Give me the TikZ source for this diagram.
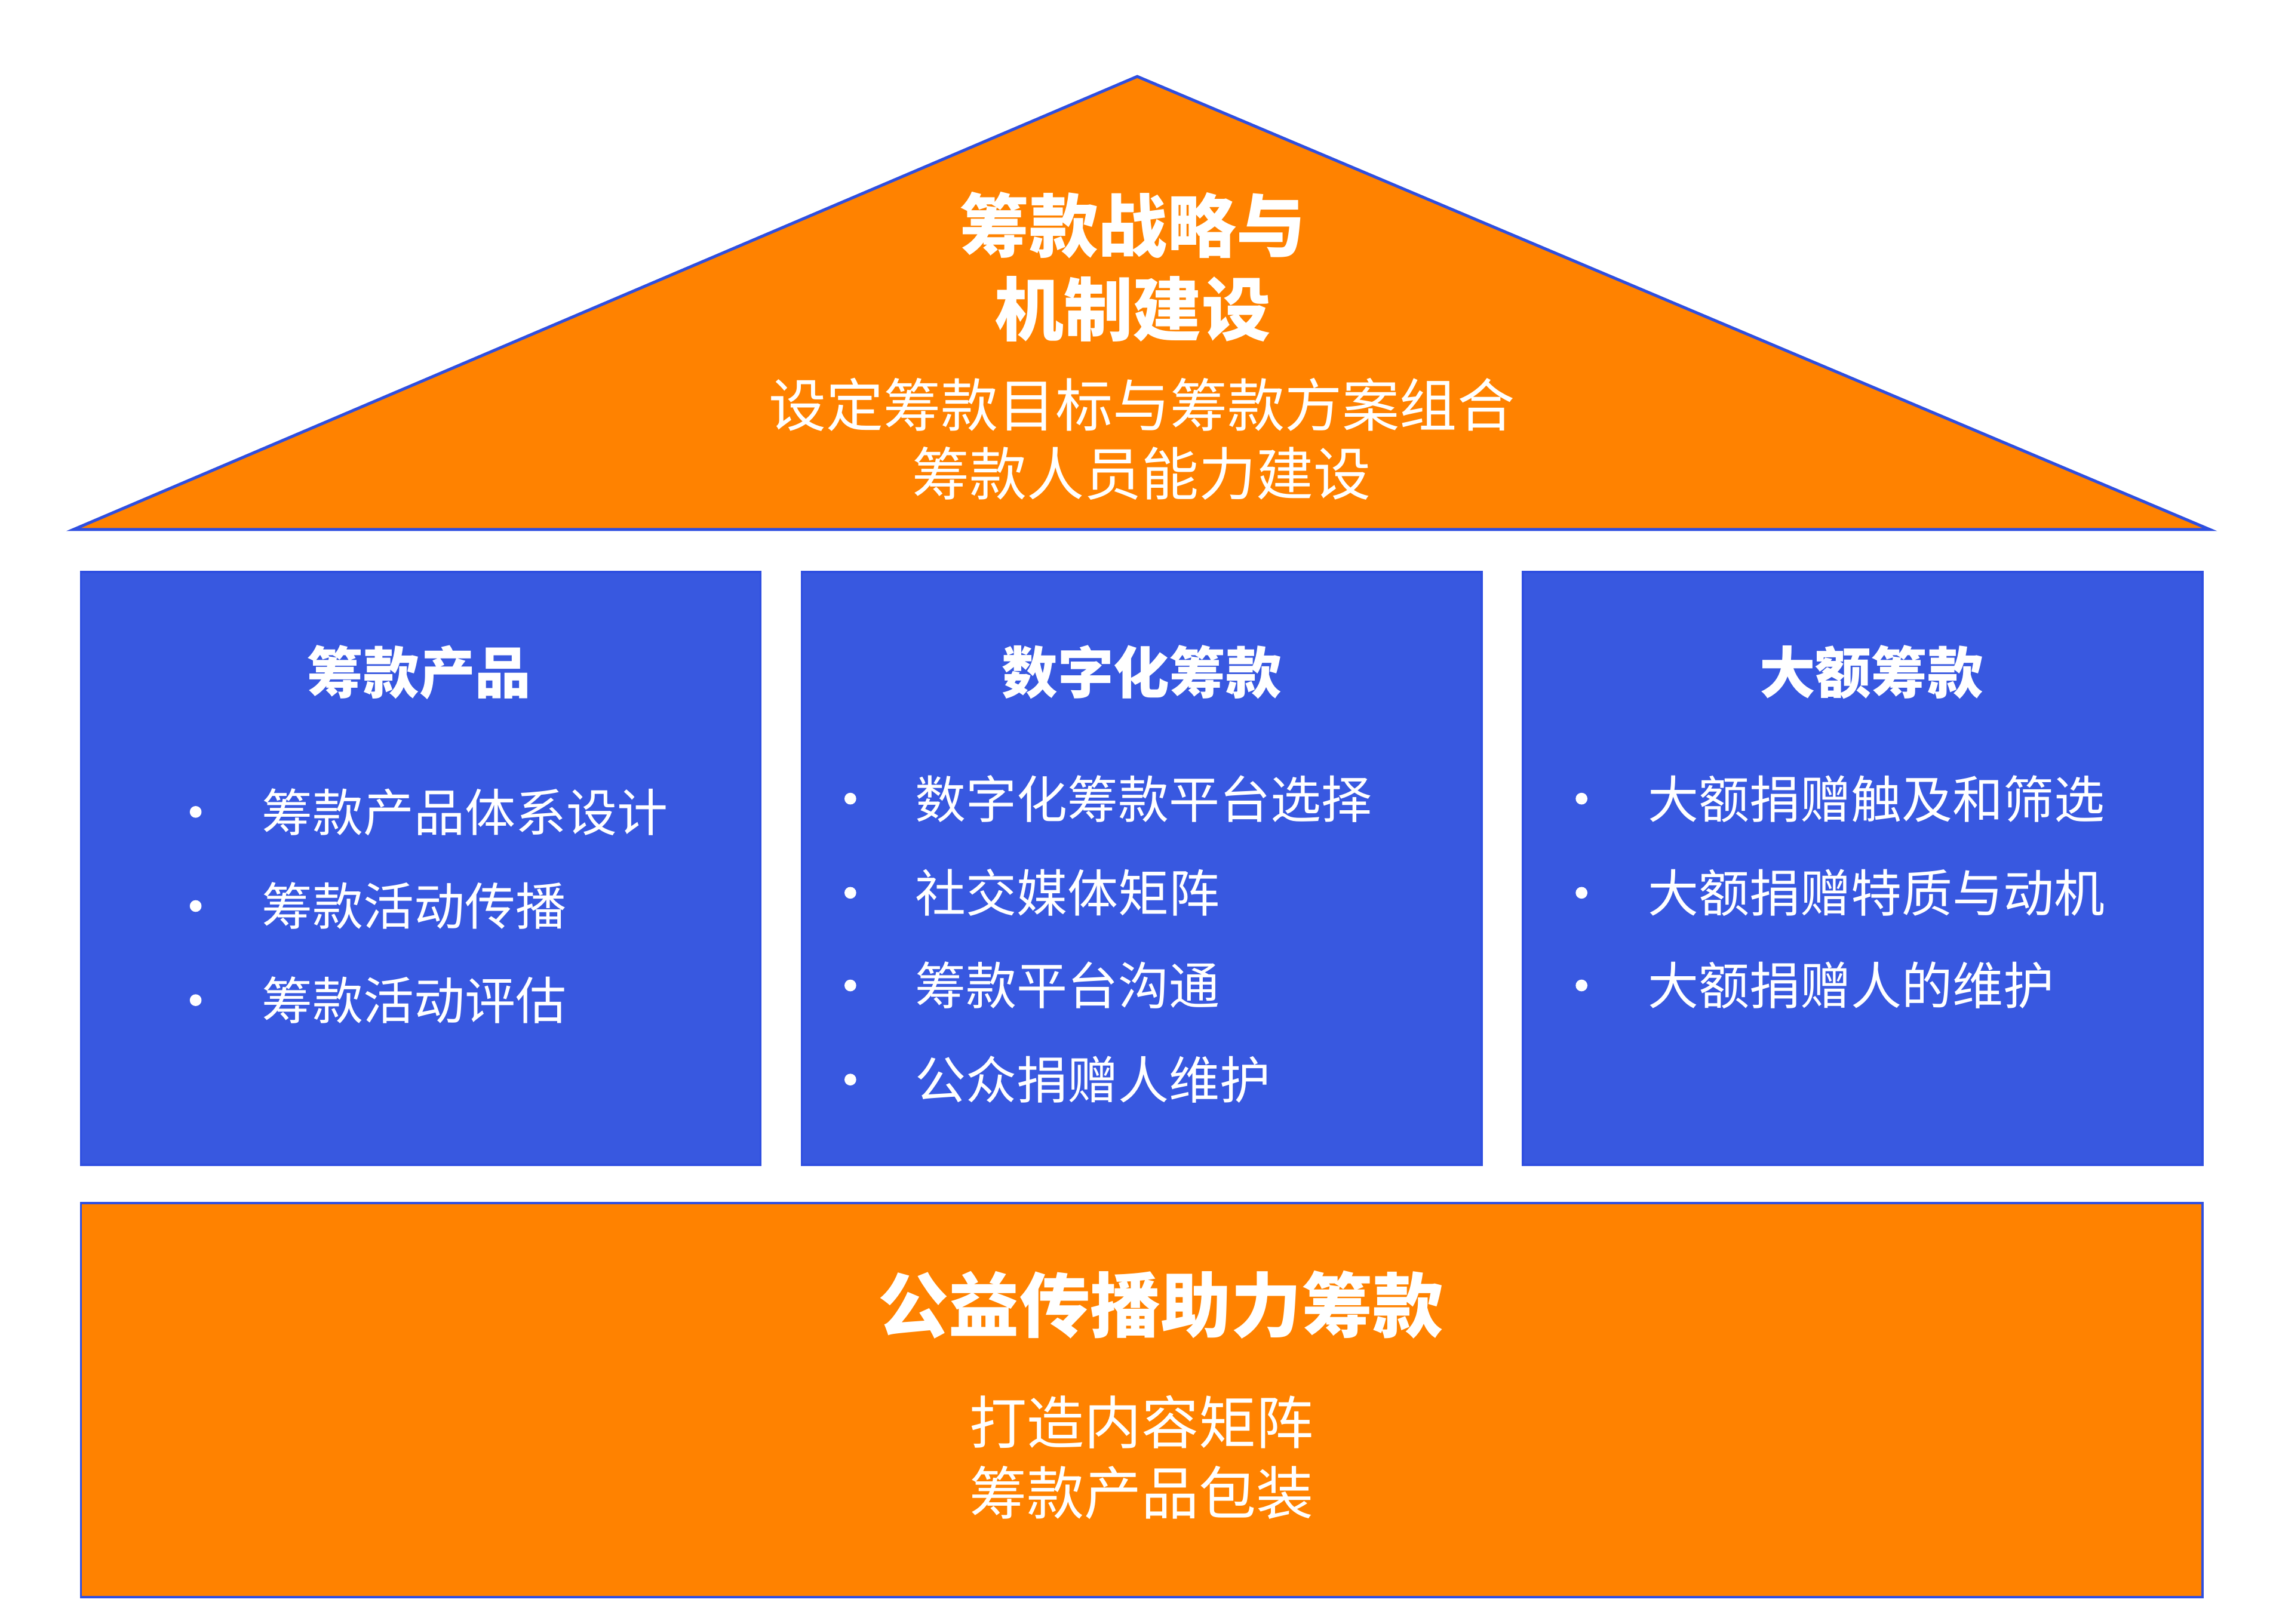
\documentclass[tikz,border=0pt]{standalone}
\usepackage{fontspec}
\setmainfont{Noto Sans CJK SC}
\definecolor{org}{HTML}{FF8200}
\definecolor{blu}{HTML}{3858E0}
\definecolor{edge}{HTML}{2F4FE0}
\begin{document}
\begin{tikzpicture}[x=1pt,y=-1pt,
  txt/.style={text=white,inner sep=0pt,font=\fontsize{#1}{#1}\selectfont},
  ttl/.style={text=white,inner sep=0pt,font=\fontsize{#1}{#1}\selectfont\bfseries},
  itm/.style={text=white,inner sep=0pt,anchor=west,font=\fontsize{34.5}{34.5}\selectfont},
  bul/.style={fill=white,circle,inner sep=0pt,minimum size=8pt},
  panel/.style={fill=blu,draw=edge,line width=1.5pt}]
\useasboundingbox (0,0) rectangle (1545,1104);
\fill[white] (0,0) rectangle (1545,1104);
% roof
\draw[fill=org,draw=edge,line width=2pt] (773,52) -- (1502,360) -- (50,360) -- cycle;
\node[ttl=47] (r1) at (770,153) {筹款战略与};
\node[ttl=47] (r2) at (770,210) {机制建设};
\node[txt=39] (r3) at (776,275) {设定筹款目标与筹款方案组合};
\node[txt=39] (r4) at (776,322) {筹款人员能力建设};
% panels
\draw[panel] (55,389) rectangle (517,792);
\draw[panel] (545,389) rectangle (1007,792);
\draw[panel] (1035,389) rectangle (1497,792);
\node[ttl=38] (p1) at (285,457) {筹款产品};
\node[ttl=38] (p2) at (776,457) {数字化筹款};
\node[ttl=38] (p3) at (1272,457) {大额筹款};
\foreach \y/\t in {552/筹款产品体系设计,616/筹款活动传播,680/筹款活动评估}{
  \node[bul] at (133,\y) {}; \node[itm] at (178,\y) {\t};}
\foreach \y/\t in {543/数字化筹款平台选择,607/社交媒体矩阵,670/筹款平台沟通,734/公众捐赠人维护}{
  \node[bul] at (578,\y) {}; \node[itm] at (622,\y) {\t};}
\foreach \y/\t in {543/大额捐赠触及和筛选,607/大额捐赠特质与动机,670/大额捐赠人的维护}{
  \node[bul] at (1075,\y) {}; \node[itm] at (1120,\y) {\t};}
% base
\draw[fill=org,draw=edge,line width=1.5pt] (55,818) rectangle (1497,1086);
\node[ttl=48] (b1) at (789,887) {公益传播助力筹款};
\node[txt=39] (b2) at (776,967) {打造内容矩阵};
\node[txt=39] (b3) at (776,1015) {筹款产品包装};
\end{tikzpicture}
\end{document}
